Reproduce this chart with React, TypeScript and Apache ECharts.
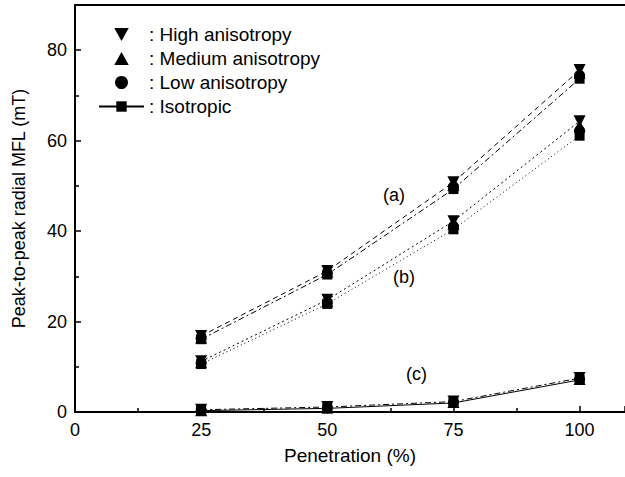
import React, { useEffect, useRef } from "react";
import * as echarts from "echarts";

const penetration = [25, 50, 75, 100];

// group (a)
const highA = [16.8, 31.2, 50.8, 75.6];
const medA = [16.5, 31.0, 50.2, 75.0];
const lowA = [16.3, 30.7, 49.8, 74.4];
const isoA = [16.1, 30.4, 49.3, 73.7];
// group (b)
const highB = [11.2, 24.8, 42.2, 64.3];
const medB = [11.0, 24.5, 41.6, 63.3];
const lowB = [10.8, 24.2, 41.0, 62.2];
const isoB = [10.6, 23.9, 40.4, 61.1];
// group (c)
const highC = [0.5, 1.1, 2.3, 7.5];
const medC = [0.4, 1.0, 2.2, 7.3];
const lowC = [0.4, 0.9, 2.1, 7.2];
const isoC = [0.3, 0.8, 2.0, 7.1];

const seriesNames = ["High anisotropy", "Medium anisotropy", "Low anisotropy", "Isotropic"];
const groupLabels = ["(a)", "(b)", "(c)"];
const xTicks = [0, 25, 50, 75, 100];
const yTicks = [0, 20, 40, 60, 80];

const FONT = "'Liberation Sans', Arial, sans-serif";
const NARROW = "'Liberation Sans Narrow', 'Liberation Sans', Arial, sans-serif";

export default function App() {
  const ref = useRef<HTMLDivElement>(null);
  useEffect(() => {
    if (!ref.current) return;
    const chart = echarts.init(ref.current, null, { renderer: "svg" });
    const pair = (arr: number[]) => penetration.map((x, i) => [x, arr[i]]);
    const symbolFor: Record<string, any> = {
      "High anisotropy": { symbol: "triangle", symbolRotate: 180, symbolSize: 12 },
      "Medium anisotropy": { symbol: "triangle", symbolRotate: 0, symbolSize: 12 },
      "Low anisotropy": { symbol: "circle", symbolRotate: 0, symbolSize: 11 },
      Isotropic: { symbol: "rect", symbolRotate: 0, symbolSize: 10 },
    };
    const mk = (name: string, data: number[], line: any) => ({
      type: "line",
      name,
      data: pair(data),
      ...symbolFor[name],
      itemStyle: { color: "#000" },
      lineStyle: { color: "#000", width: 1, ...line },
      z: 3,
    });
    const hidden = { opacity: 0 };
    const series: any[] = [
      mk("Isotropic", isoC, { type: "solid" }),
      mk("High anisotropy", highC, { type: [6, 3, 2, 3] }),
      mk("Medium anisotropy", medC, hidden),
      mk("Low anisotropy", lowC, hidden),
      mk("High anisotropy", highA, { type: [5, 4] }),
      mk("Medium anisotropy", medA, hidden),
      mk("Low anisotropy", lowA, hidden),
      mk("Isotropic", isoA, { type: [6, 3, 2, 3] }),
      mk("High anisotropy", highB, { type: [2, 3] }),
      mk("Medium anisotropy", medB, hidden),
      mk("Low anisotropy", lowB, hidden),
      mk("Isotropic", isoB, { type: [1, 3] }),
    ];
    const option: any = {
      animation: false,
      backgroundColor: "#fff",
      grid: { left: 75, right: 0, top: 5, bottom: 65, containLabel: false },
      legend: {
        orient: "vertical",
        left: 93,
        top: 20,
        itemGap: 5,
        itemWidth: 45,
        itemHeight: 13,
        textStyle: { fontFamily: FONT, fontSize: 19, color: "#000" },
        formatter: (n: string) => ": " + n,
        selectedMode: false,
        data: [
          { name: seriesNames[0], icon: "path://M0,0 L10,0 L5,9 Z" },
          { name: seriesNames[1], icon: "path://M5,0 L10,9 L0,9 Z" },
          { name: seriesNames[2], icon: "circle" },
          { name: seriesNames[3] },
        ],
      },
      xAxis: [
        {
          type: "value",
          min: 0,
          max: 109,
          interval: 25,
          name: "Penetration (%)",
          nameLocation: "middle",
          nameGap: 34,
          nameTextStyle: { fontFamily: FONT, fontSize: 19, color: "#000" },
          axisLine: { show: true, onZero: false, lineStyle: { color: "#000", width: 2 } },
          axisTick: { show: true, inside: true, length: 6, lineStyle: { color: "#000", width: 1.5 } },
          minorTick: { show: true, splitNumber: 2, length: 4, lineStyle: { color: "#000", width: 1.5 } },
          axisLabel: {
            fontFamily: NARROW,
            fontSize: 18,
            color: "#000",
            margin: 9,
            customValues: xTicks,
          },
          splitLine: { show: false },
        },
        {
          type: "value",
          min: 0,
          max: 109,
          position: "top",
          axisLine: { show: true, onZero: false, lineStyle: { color: "#000", width: 2 } },
          axisTick: { show: false },
          axisLabel: { show: false },
          splitLine: { show: false },
        },
      ],
      yAxis: {
        type: "value",
        min: 0,
        max: 90,
        interval: 20,
        name: "Peak-to-peak radial MFL (mT)",
        nameLocation: "middle",
        nameGap: 47,
        nameTextStyle: { fontFamily: FONT, fontSize: 18, color: "#000" },
        axisLine: { show: true, onZero: false, lineStyle: { color: "#000", width: 2 } },
        axisTick: { show: true, inside: true, length: 6, lineStyle: { color: "#000", width: 1.5 } },
        minorTick: { show: true, splitNumber: 2, length: 4, lineStyle: { color: "#000", width: 1.5 } },
        axisLabel: {
          fontFamily: NARROW,
          fontSize: 18,
          color: "#000",
          margin: 8,
          customValues: yTicks,
        },
        splitLine: { show: false },
      },
      graphic: [
        { type: "text", left: 383, top: 186, style: { text: groupLabels[0], font: `18px ${FONT}`, fill: "#000" } },
        { type: "text", left: 393, top: 268, style: { text: groupLabels[1], font: `18px ${FONT}`, fill: "#000" } },
        { type: "text", left: 406, top: 365, style: { text: groupLabels[2], font: `18px ${FONT}`, fill: "#000" } },
      ],
      series,
    };
    chart.setOption(option);
    return () => chart.dispose();
  }, []);
  return (
    <div
      ref={ref}
      style={{ position: "fixed", left: 0, top: 0, width: 625, height: 477, background: "#fff" }}
    />
  );
}
